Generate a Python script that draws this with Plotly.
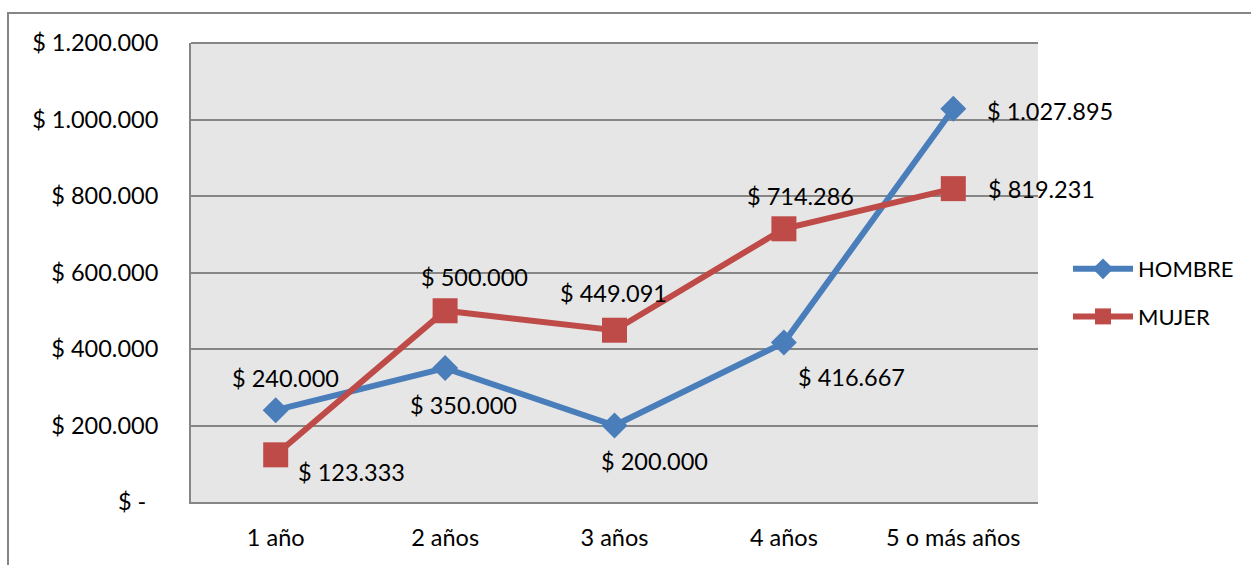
import plotly.graph_objects as go

categories = ["1 año", "2 años", "3 años", "4 años", "5 o más años"]
hombre = [240000, 350000, 200000, 416667, 1027895]
mujer = [123333, 500000, 449091, 714286, 819231]
y_tickvals = [0, 200000, 400000, 600000, 800000, 1000000, 1200000]
y_ticktext = ["$ -  ", "$ 200.000", "$ 400.000", "$ 600.000", "$ 800.000", "$ 1.000.000", "$ 1.200.000"]

def fmt(v):
    return "$ " + f"{v:,}".replace(",", ".")

FONT = "Lato"
FS = 23.5
BLUE = "#4A7EBB"
RED = "#BE4B48"
GRID = "#868686"

fig = go.Figure()
fig.add_trace(go.Scatter(
    x=categories, y=hombre, name="HOMBRE", mode="lines+markers", legendgroup="h",
    line=dict(color=BLUE, width=6),
    marker=dict(symbol="diamond", size=20, color=BLUE),
))
fig.add_trace(go.Scatter(
    x=categories, y=mujer, name="MUJER", mode="lines+markers", legendgroup="m",
    line=dict(color=RED, width=6),
    marker=dict(symbol="square", size=25, color=RED),
))

h_shift = [(10, 32), (18, -37), (40, -35), (68, -34), (97, -2)]
m_shift = [(76, -17), (29, 34), (-1, 37), (17, 33), (88, 0)]
ann = []
for vals, shifts in ((hombre, h_shift), (mujer, m_shift)):
    for c, v, (dx, dy) in zip(categories, vals, shifts):
        ann.append(dict(x=c, y=v, text=fmt(v), showarrow=False, xanchor="center",
                        yanchor="middle", xshift=dx, yshift=dy,
                        font=dict(family=FONT, size=FS, color="#000")))

L, R, T, B = 191, 1038, 43, 502
W, H = 1251, 565
pw, ph = R - L, B - T
shapes = [dict(type="rect", xref="paper", yref="paper",
               x0=(8 - L) / pw, x1=(1300 - L) / pw,
               y0=(B - 600) / ph, y1=(B - 13) / ph,
               line=dict(color=GRID, width=2), fillcolor="rgba(0,0,0,0)", layer="below")]

fig.update_layout(
    width=W, height=H,
    margin=dict(l=L, r=W - R, t=T, b=H - B, pad=0),
    paper_bgcolor="white", plot_bgcolor="#E6E6E6",
    font=dict(family=FONT, size=FS, color="#000"),
    showlegend=True,
    legend=dict(x=(1068 - L) / pw, y=(B - 248) / ph, xanchor="left", yanchor="top",
                font=dict(family=FONT, size=22), itemwidth=60, tracegroupgap=16,
                bgcolor="rgba(0,0,0,0)"),
    annotations=ann, shapes=shapes,
    xaxis=dict(type="category", range=[-0.5, 4.5], showgrid=False, showline=True,
               linecolor=GRID, linewidth=2, ticks="", ticklabelstandoff=14,
               zeroline=False),
    yaxis=dict(range=[0, 1200000], tickvals=y_tickvals, ticktext=y_ticktext,
               showgrid=True, gridcolor=GRID, gridwidth=1.5, showline=True,
               linecolor=GRID, linewidth=2, ticks="", ticklabelstandoff=26,
               zeroline=False, mirror=False),
)
fig.add_shape(type="line", xref="paper", yref="paper", x0=0, x1=1, y0=1, y1=1,
              line=dict(color=GRID, width=2))

fig.write_html("out.html")
